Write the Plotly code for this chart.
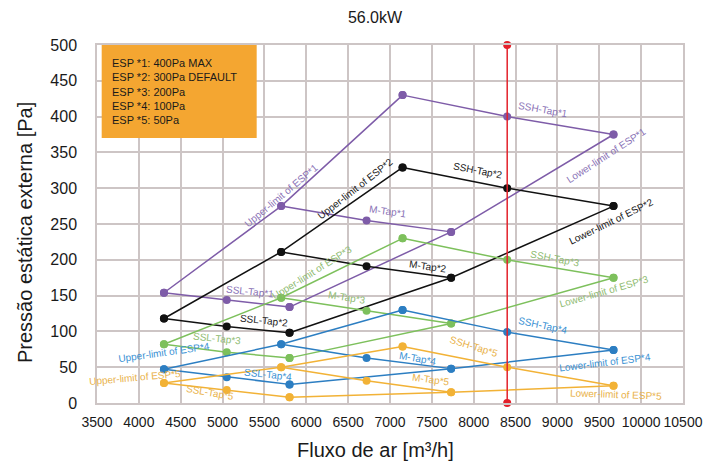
import numpy as np
import plotly.graph_objects as go

# Air-flow of the three points on each tap curve [m3/h]
flow_ssl = [4300, 5050, 5800]
flow_m = [5700, 6720, 7730]
flow_ssh = [7150, 8400, 9670]
rated_flow = 8400

# External static pressure [Pa] per ESP setting (SSL, M, SSH taps)
esp1_ssl = [154, 144, 134]
esp1_m = [275, 255, 239]
esp1_ssh = [430, 400, 375]

esp2_ssl = [118, 107, 98]
esp2_m = [211, 191, 175]
esp2_ssh = [329, 300, 275]

esp3_ssl = [82, 71, 63]
esp3_m = [147, 129, 111]
esp3_ssh = [230, 200, 175]

esp4_ssl = [47, 36, 26]
esp4_m = [82, 63, 48]
esp4_ssh = [130, 99, 74]

esp5_ssl = [28, 18, 8]
esp5_m = [50, 31, 15]
esp5_ssh = [79, 50, 24]

x_ticks = list(range(3500, 11000, 500))
y_ticks = list(range(0, 550, 50))
legend_lines = ["ESP *1: 400Pa MAX", "ESP *2: 300Pa DEFAULT", "ESP *3: 200Pa",
                "ESP *4: 100Pa", "ESP *5: 50Pa"]

line_colors = ["#7E5CA8", "#111111", "#7DC05C", "#2C7EC2", "#F2B236"]
label_colors = ["#8A72B6", "#222222", "#8FBC72", "#3A92D4", "#E9B24A"]

esps = [
    (esp1_ssl, esp1_m, esp1_ssh),
    (esp2_ssl, esp2_m, esp2_ssh),
    (esp3_ssl, esp3_m, esp3_ssh),
    (esp4_ssl, esp4_m, esp4_ssh),
    (esp5_ssl, esp5_m, esp5_ssh),
]

fig = go.Figure()
upper_x = [flow_ssl[0], flow_m[0], flow_ssh[0]]
lower_x = [flow_ssl[2], flow_m[2], flow_ssh[2]]

curves = []  # per esp: dict of name -> (xs, ys)
for i, (ssl, m, ssh) in enumerate(esps):
    c = {
        "SSL": (flow_ssl, ssl),
        "M": (flow_m, m),
        "SSH": (flow_ssh, ssh),
        "UP": (upper_x, [ssl[0], m[0], ssh[0]]),
        "LO": (lower_x, [ssl[2], m[2], ssh[2]]),
    }
    curves.append(c)
    for key, (xs, ys) in c.items():
        fig.add_trace(go.Scatter(
            x=xs, y=ys, mode="lines+markers",
            line=dict(color=line_colors[i], width=1.5),
            marker=dict(color=line_colors[i], size=8),
            showlegend=False, hoverinfo="skip"))

fig.add_trace(go.Scatter(
    x=[rated_flow, rated_flow], y=[y_ticks[0], y_ticks[-1]], mode="lines+markers",
    line=dict(color="#E3212B", width=1.5), marker=dict(color="#E3212B", size=8),
    showlegend=False, hoverinfo="skip", cliponaxis=False))

# label specs: (esp index, curve key, flow position, text, shift up px, angle, shift x px)
label_specs = [
    (0, "UP", 5700, "Upper-limit of ESP*1", 11, -40, 0),
    (0, "M", 6981, "M-Tap*1", 12, 8, 0),
    (0, "SSH", 8822, "SSH-Tap*1", 13, 10, 0),
    (0, "LO", 9580, "Lower-limit of ESP*1", -16, -33, 0),
    (0, "SSL", 5323, "SSL-Tap*1", 11, 6, 0),
    (1, "UP", 6586, "Upper-limit of ESP*2", 12, -38, 0),
    (1, "SSH", 8051, "SSH-Tap*2", 12, 11, 0),
    (1, "M", 7454, "M-Tap*2", 8, 8, 0),
    (1, "LO", 9640, "Lower-limit of ESP*2", -14, -26, 0),
    (1, "SSL", 5496, "SSL-Tap*2", 10, 6, 0),
    (2, "UP", 6068, "Upper-limit of ESP*3", 10, -32, 0),
    (2, "SSL", 4937, "SSL-Tap*3", 12, 6, 0),
    (2, "M", 6490, "M-Tap*3", 10, 9, 0),
    (2, "SSH", 8969, "SSH-Tap*3", 9, 11, 0),
    (2, "LO", 9556, "Lower-limit of ESP*3", -11, -16, 0),
    (3, "UP", 4300, "Upper-limit of ESP*4", 17, -8, 0),
    (3, "SSL", 5544, "SSL-Tap*4", 7, 6, 0),
    (3, "M", 7335, "M-Tap*4", 6, 10, 0),
    (3, "SSH", 8832, "SSH-Tap*4", 13, 12, 0),
    (3, "LO", 9568, "Lower-limit of ESP*4", -12, -7, 0),
    (4, "UP", 4300, "Upper-limit of ESP*5", 5, -5, -29),
    (4, "SSL", 4850, "SSL-Tap*5", -4, 10, 0),
    (4, "M", 7484, "M-Tap*5", 10, 8, 0),
    (4, "SSH", 8003, "SSH-Tap*5", 14, 17, 0),
    (4, "LO", 9700, "Lower-limit of ESP*5", -9, 2, 0),
]

annotations = []
for i, key, at, text, up, ang, dx in label_specs:
    xs, ys = curves[i][key]
    annotations.append(dict(
        x=at, y=float(np.interp(at, xs, ys)), xref="x", yref="y",
        text=text, showarrow=False, textangle=ang, yshift=up, xshift=dx,
        font=dict(size=10, color=label_colors[i], family="Liberation Sans, Arial")))

# ESP legend box
annotations.append(dict(
    x=0.022, y=0.869, xref="paper", yref="paper", xanchor="left", yanchor="middle",
    align="left", showarrow=False, text="<br>".join(legend_lines),
    font=dict(size=11, color="#1a1a1a", family="Liberation Sans, Arial")))

# Axis titles
annotations.append(dict(
    x=0, y=0.5, xref="paper", yref="paper", xshift=-72, yshift=-9, textangle=-90,
    xanchor="center", yanchor="middle",
    showarrow=False, text="Pressão estática externa [Pa]",
    font=dict(size=20, color="#1a1a1a", family="Liberation Sans, Arial")))
annotations.append(dict(
    x=0.5, y=0, xref="paper", yref="paper", xshift=-15, yshift=-47,
    xanchor="center", yanchor="middle",
    showarrow=False, text="Fluxo de ar [m³/h]",
    font=dict(size=20, color="#1a1a1a", family="Liberation Sans, Arial")))

grid = "#CDC5C5"
W, H = 712, 460  # page body has an 8px margin
fig.update_layout(
    width=W, height=H,
    margin=dict(l=89, r=37, t=37, b=65),
    paper_bgcolor="white", plot_bgcolor="white",
    title=dict(text="56.0kW", x=367 / W, xref="container", xanchor="center",
               y=1 - 9 / H, yanchor="middle",
               font=dict(size=16, color="#1a1a1a", family="Liberation Sans, Arial")),
    xaxis=dict(range=[x_ticks[0], x_ticks[-1]], tickvals=x_ticks,
               ticktext=[str(v) for v in x_ticks], automargin=False,
               showgrid=True, gridcolor=grid, gridwidth=1.5, zeroline=False,
               showline=True, linecolor=grid, linewidth=1.5, mirror=True,
               ticks="outside", ticklen=5, tickcolor="rgba(0,0,0,0)",
               tickfont=dict(size=14, color="#1a1a1a", family="Liberation Sans, Arial")),
    yaxis=dict(range=[y_ticks[0], y_ticks[-1]], tickvals=y_ticks, automargin=False,
               showgrid=True, gridcolor=grid, gridwidth=1.5, zeroline=False,
               showline=True, linecolor=grid, linewidth=1.5, mirror=True,
               ticks="outside", ticklen=15, tickcolor="rgba(0,0,0,0)",
               tickfont=dict(size=16, color="#1a1a1a", family="Liberation Sans, Arial")),
    shapes=[dict(type="rect", xref="paper", yref="paper", x0=0.008, x1=0.2725,
                 y0=0.740, y1=1.0, fillcolor="#F4A631", line=dict(width=0), layer="above")],
    annotations=annotations,
)

fig.write_html("out.html")
